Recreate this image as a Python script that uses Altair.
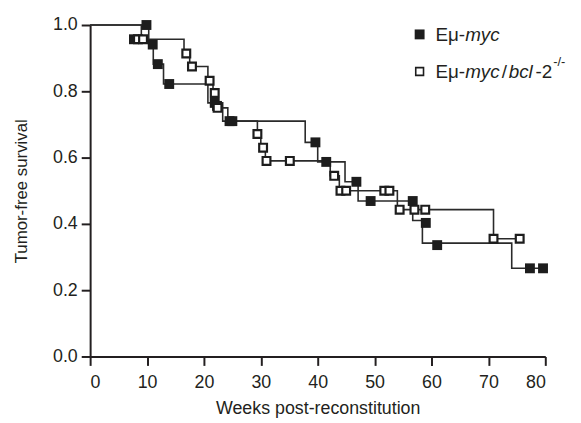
import altair as alt
import pandas as pd

# ---- data ----
week_ticks = [0, 10, 20, 30, 40, 50, 60, 70, 80]
surv_ticks = [0.0, 0.2, 0.4, 0.6, 0.8, 1.0]

# step-curve vertices (time of drop, new survival level)
myc_step_t = [0, 10.3, 11.1, 12.9, 20.7, 23.3, 37.8, 40.0, 44.8, 47.1, 56.7, 58.4, 74.1, 79.6]
myc_step_s = [1.0, 0.941, 0.882, 0.822, 0.765, 0.71, 0.646, 0.587, 0.527, 0.469, 0.41, 0.342, 0.266, 0.266]
bcl_step_t = [0, 9.0, 16.5, 17.5, 20.7, 21.6, 22.2, 24.2, 29.4, 30.0, 30.8, 42.2, 43.8, 54.0, 70.9, 76.2]
bcl_step_s = [1.0, 0.957, 0.914, 0.875, 0.832, 0.795, 0.75, 0.71, 0.671, 0.63, 0.59, 0.545, 0.50, 0.443, 0.355, 0.355]

# symbols
myc_mark_t = [7.7, 9.9, 11.0, 11.9, 13.9, 21.9, 22.3, 24.5, 25.0, 39.6, 41.5, 46.8, 49.3, 56.7, 59.0, 61.0, 77.3, 79.6]
myc_mark_s = [0.957, 1.0, 0.941, 0.882, 0.822, 0.765, 0.756, 0.71, 0.71, 0.646, 0.587, 0.527, 0.469, 0.469, 0.403, 0.336, 0.266, 0.266]
bcl_mark_t = [8.4, 9.3, 16.9, 17.9, 21.0, 21.9, 22.4, 29.4, 30.4, 31.0, 35.1, 42.9, 44.0, 45.0, 51.7, 52.6, 54.4, 57.0, 58.9, 70.9, 75.5]
bcl_mark_s = [0.957, 0.957, 0.914, 0.875, 0.832, 0.795, 0.75, 0.671, 0.63, 0.59, 0.59, 0.545, 0.50, 0.50, 0.50, 0.50, 0.443, 0.443, 0.443, 0.355, 0.355]

groups = ["Eμ-myc", "Eμ-myc/bcl-2-/-"]

# ---- tables ----
steps = pd.DataFrame({
    "t": myc_step_t + bcl_step_t,
    "s": myc_step_s + bcl_step_s,
    "g": [groups[0]] * len(myc_step_t) + [groups[1]] * len(bcl_step_t),
})
myc_marks = pd.DataFrame({"t": myc_mark_t, "s": myc_mark_s})
bcl_marks = pd.DataFrame({"t": bcl_mark_t, "s": bcl_mark_s})
one = pd.DataFrame({"k": [0]})

INK = "#231f20"
FONT = "Liberation Sans"

xscale = alt.Scale(domain=[0, 80], nice=False, zero=False)
yscale = alt.Scale(domain=[0, 1], nice=False)

x_axis = alt.Axis(values=week_ticks, format="d", title="Weeks post-reconstitution",
                  grid=False, domainColor=INK, domainWidth=2, tickColor=INK, tickWidth=2,
                  tickSize=9, labelFontSize=18, labelColor=INK, labelFont=FONT,
                  labelPadding=8, titleFontSize=18, titleFontWeight="normal",
                  titleColor=INK, titleFont=FONT, titlePadding=9)
y_axis = alt.Axis(values=surv_ticks, format=".1f", title="Tumor-free survival",
                  grid=False, domainColor=INK, domainWidth=2, tickColor=INK, tickWidth=2,
                  tickSize=9, labelFontSize=18, labelColor=INK, labelFont=FONT,
                  labelPadding=4, titleFontSize=17, titleFontWeight="normal",
                  titleColor=INK, titleFont=FONT, titlePadding=22)

X = alt.X("t:Q", scale=xscale, axis=x_axis)
Y = alt.Y("s:Q", scale=yscale, axis=y_axis)

lines = alt.Chart(steps).mark_line(interpolate="step-after", color="#2a2a2a",
                                   strokeWidth=1.6).encode(x=X, y=Y, detail="g:N")

black_pts = alt.Chart(myc_marks).mark_square(size=100, color="#1d1d1d", opacity=1,
                                              filled=True).encode(x=X, y=Y)
white_pts = alt.Chart(bcl_marks).mark_square(size=62, fill="white", stroke="#1d1d1d",
                                              strokeWidth=2.2, opacity=1,
                                              filled=True).encode(x=X, y=Y)

# ---- custom legend (pixel offsets inside the plot area) ----
def txt(s, x, y, size=19, style="normal"):
    return alt.Chart(one).mark_text(text=s, align="left", baseline="alphabetic",
                                    font=FONT, fontSize=size, fontStyle=style,
                                    color=INK).encode(x=alt.value(x), y=alt.value(y))

leg_sq1 = alt.Chart(one).mark_square(size=100, color="#1d1d1d", opacity=1).encode(
    x=alt.value(333), y=alt.value(9.5))
leg_sq2 = alt.Chart(one).mark_square(size=62, fill="white", stroke="#1d1d1d",
                                     strokeWidth=1.6, opacity=1).encode(
    x=alt.value(333), y=alt.value(47))

legend = [
    leg_sq1, leg_sq2,
    txt("Eμ-", 349, 16), txt("myc", 379, 16, style="italic"),
    txt("Eμ-", 349, 54), txt("myc", 379, 54, style="italic"),
    txt("/", 416, 54), txt("bcl", 423, 54, style="italic"),
    txt("-2", 450, 54), txt("-/-", 468, 41, size=13),
]

chart = alt.layer(lines, black_pts, white_pts, *legend).properties(
    width=460, height=335,
    background="white",
    autosize=alt.AutoSizeParams(type="none"),
    padding={"left": 83, "top": 15, "right": 28, "bottom": 62},
).configure_view(strokeWidth=0, stroke=None)

chart.save("out.html", embed_options={"renderer": "svg", "actions": False})
